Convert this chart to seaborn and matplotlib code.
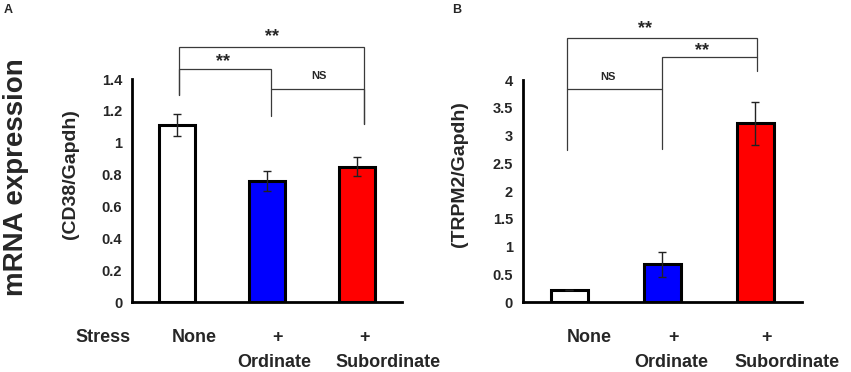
import matplotlib
matplotlib.use('Agg')
import matplotlib.pyplot as plt
import numpy as np
import pandas as pd
import seaborn as sns

groups = ['None', 'Ordinate', 'Subordinate']
colors = ['white', '#0000ff', '#ff0000']

cd38_mean = [1.11, 0.76, 0.85]
cd38_err = [0.07, 0.06, 0.06]

trpm2_mean = [0.21, 0.68, 3.22]
trpm2_err = [0.0, 0.23, 0.39]

sns.set_style('white')
plt.rcParams['font.family'] = ['Liberation Sans', 'DejaVu Sans']
plt.rcParams['font.weight'] = 'bold'

fig = plt.figure(figsize=(8.51, 3.72), dpi=100)
axA = fig.add_axes([0.1551, 0.188, 0.3173, 0.5996])
axB = fig.add_axes([0.6142, 0.188, 0.3279, 0.5968])

LINE = '#3a3a3a'


def panel(ax, means, errs, ymax, ystep, ylabel):
    df = pd.DataFrame({'group': groups, 'value': means})
    sns.barplot(data=df, x='group', y='value', hue='group', palette=colors,
                width=0.4, edgecolor='black', linewidth=2.2, errorbar=None,
                legend=False, ax=ax, saturation=1)
    ax.errorbar(np.arange(3), means, yerr=errs, fmt='none', ecolor='#222222',
                elinewidth=1.0, capsize=3, capthick=1.0)
    ax.set_xlim(-0.5, 2.5)
    ax.set_ylim(0, ymax)
    ticks = np.arange(0, ymax + 1e-9, ystep)
    ax.set_yticks(ticks)
    ax.set_yticklabels([f'{v:g}' for v in ticks], fontsize=10.5,
                       fontweight='bold')
    ax.set_xticks([-0.5, 0.5, 1.5, 2.5])
    ax.set_xticklabels([])
    ax.set_xlabel('')
    ax.set_ylabel(ylabel, fontsize=14, fontweight='bold')
    ax.yaxis.set_label_coords(-0.195, 0.575)
    for s in ['top', 'right']:
        ax.spines[s].set_visible(False)
    for s in ['left', 'bottom']:
        ax.spines[s].set_linewidth(2)
        ax.spines[s].set_color('black')
    ax.tick_params(axis='both', direction='out', length=4, width=2,
                   color='black', pad=3)


def bracket(ax, x0, x1, y, y0, y1):
    ax.plot([x0, x0, x1, x1], [y0, y, y, y1], color=LINE, lw=0.9,
            clip_on=False, solid_joinstyle='miter')


def mark(ax, x, y, s, size):
    ax.text(x, y, s, ha='center', va='center', fontsize=size,
            fontweight='bold', clip_on=False)


panel(axA, cd38_mean, cd38_err, 1.4, 0.2, '(CD38/Gapdh)')
panel(axB, trpm2_mean, trpm2_err, 4, 0.5, '(TRPM2/Gapdh)')

# significance brackets, panel A
bracket(axA, 0.02, 2.08, 1.60, 1.30, 1.12)
bracket(axA, 0.02, 1.04, 1.46, 1.30, 1.165)
bracket(axA, 1.04, 2.08, 1.34, 1.34, 1.12)
mark(axA, 1.05, 1.667, '**', 13)
mark(axA, 0.51, 1.507, '**', 13)
mark(axA, 1.58, 1.42, 'NS', 8)

# significance brackets, panel B
bracket(axB, -0.02, 2.02, 4.75, 2.74, 4.16)
bracket(axB, 1.0, 2.02, 4.42, 2.75, 4.42)
bracket(axB, -0.02, 1.0, 3.83, 3.83, 3.83)
mark(axB, 0.82, 4.925, '**', 13)
mark(axB, 1.43, 4.525, '**', 13)
mark(axB, 0.42, 4.05, 'NS', 8)

# category labels under the axes
label_offsets = [
    (axA, [0.19, 0.12, 0.08, 0.08, 0.34]),
    (axB, [0.22, 0.12, 0.10, 0.12, 0.34]),
]
for ax, offs in label_offsets:
    tr = ax.get_xaxis_transform()
    kw = dict(transform=tr, ha='center', va='center', fontsize=13,
              fontweight='bold')
    ax.text(0 + offs[0], -0.16, 'None', **kw)
    ax.text(1 + offs[1], -0.16, '+', **kw)
    ax.text(1 + offs[2], -0.27, 'Ordinate', **kw)
    ax.text(2 + offs[3], -0.16, '+', **kw)
    ax.text(2 + offs[4], -0.27, 'Subordinate', **kw)

fig.text(103 / 851, 1 - 338 / 372, 'Stress', ha='center', va='center',
         fontsize=13, fontweight='bold')
fig.text(16 / 851, 1 - 177 / 372, 'mRNA expression', rotation=90,
         ha='center', va='center', fontsize=20, fontweight='bold')
fig.text(8 / 851, 1 - 10 / 372, 'A', ha='center', va='center',
         fontsize=9, fontweight='bold')
fig.text(457 / 851, 1 - 10 / 372, 'B', ha='center', va='center',
         fontsize=9, fontweight='bold')

fig.savefig('out.png', dpi=100)
